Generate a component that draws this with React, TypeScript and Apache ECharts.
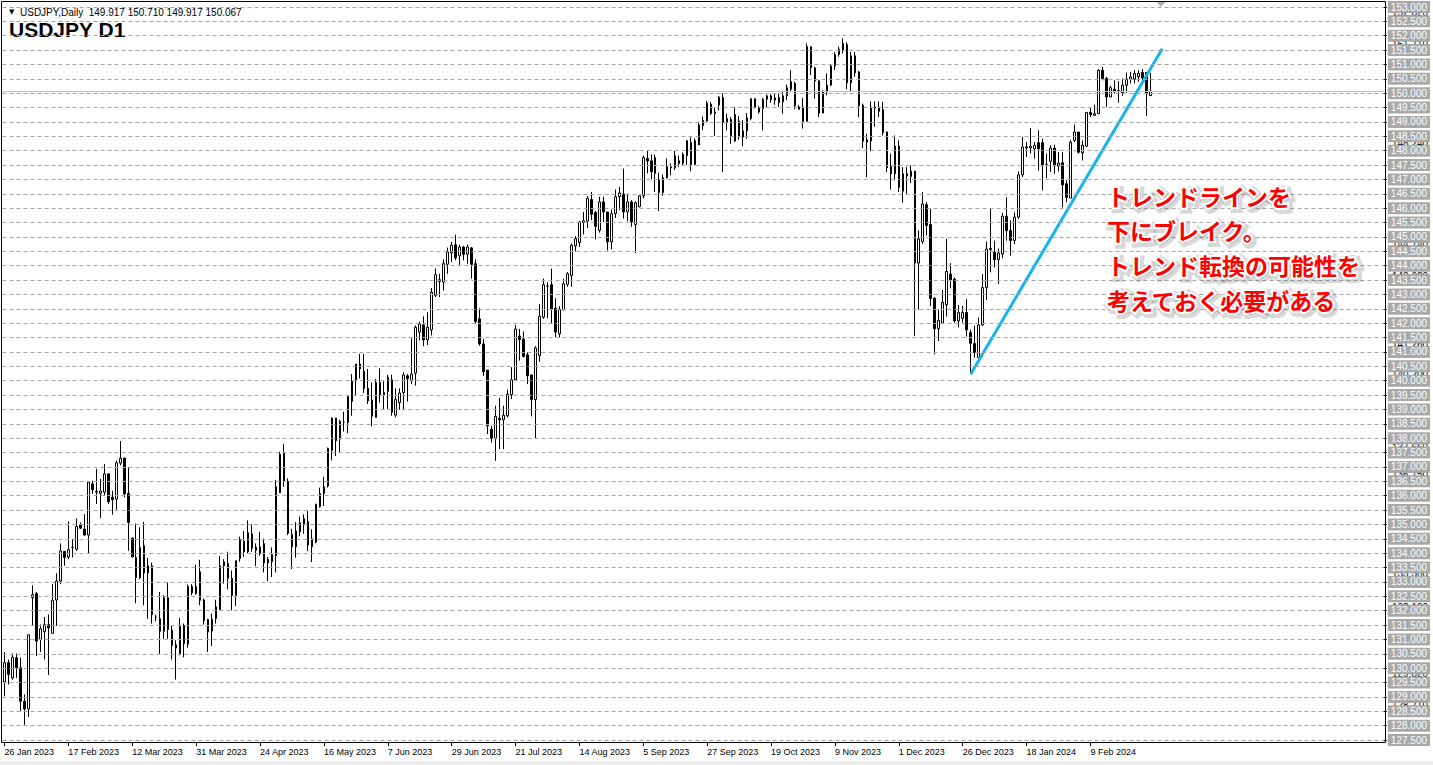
import React, { useEffect, useRef } from "react";
import * as echarts from "echarts";

// ---------- data ----------
const dateLabels = [
  "26 Jan 2023", "17 Feb 2023", "12 Mar 2023", "31 Mar 2023", "24 Apr 2023", "16 May 2023",
  "7 Jun 2023", "29 Jun 2023", "21 Jul 2023", "14 Aug 2023", "5 Sep 2023", "27 Sep 2023",
  "19 Oct 2023", "9 Nov 2023", "1 Dec 2023", "26 Dec 2023", "18 Jan 2024", "9 Feb 2024",
];
const LABEL_STEP = 16;
const TOTAL_SLOTS = 346;

const open = [
  129.52,130.19,129.66,130.36,130.01,128.85,128.58,132.45,132.59,131.00,
  131.27,131.51,131.21,132.37,133.03,134.06,133.87,134.20,134.14,134.98,
  134.84,134.63,136.41,136.12,136.08,136.12,136.76,135.95,135.88,137.13,
  137.31,136.08,134.52,133.85,133.15,134.26,133.31,133.56,131.77,131.72,
  131.28,132.45,131.33,130.81,130.50,131.49,130.83,132.84,132.59,133.35,
  132.37,131.69,131.29,131.72,132.03,133.56,133.64,133.12,132.53,133.81,
  134.41,134.05,134.67,134.21,133.99,134.33,133.78,133.70,133.91,136.10,
  137.48,136.49,134.65,134.22,134.74,134.98,135.09,134.22,134.38,135.62,
  136.07,136.34,137.58,138.70,137.97,138.55,138.55,139.28,140.00,140.58,
  140.33,139.73,139.33,138.72,139.94,139.51,139.63,140.03,138.80,139.24,
  139.59,140.17,140.00,140.26,141.69,141.94,141.42,141.77,142.97,143.51,
  143.43,144.05,144.45,144.73,144.34,144.65,144.40,144.62,144.07,142.15,
  141.28,140.37,138.31,138.00,138.69,138.64,138.78,139.51,140.03,141.55,
  141.45,140.90,140.20,139.34,140.87,142.21,143.29,143.34,142.52,141.63,
  142.47,143.35,143.66,144.69,144.80,145.50,145.55,146.30,145.85,145.23,
  146.22,145.87,144.83,145.81,146.40,146.49,145.87,146.22,145.43,146.05,
  146.43,147.73,147.65,147.21,146.98,146.55,147.06,147.41,147.41,147.65,
  147.56,147.83,148.28,147.52,148.20,148.87,149.03,149.62,149.34,149.59,
  149.84,148.98,149.09,148.34,149.03,148.48,148.69,149.12,149.81,149.35,
  149.47,149.79,149.91,149.76,149.85,149.70,149.91,150.14,150.34,149.44,
  149.52,149.02,151.62,150.88,150.43,149.31,150.05,150.28,150.95,151.35,
  151.50,151.70,150.36,151.30,150.74,149.58,148.30,148.34,149.52,149.52,
  149.43,148.65,147.45,147.20,148.16,146.59,147.20,147.10,147.29,144.09,
  144.84,146.12,145.43,142.87,141.81,142.00,142.64,143.71,143.53,142.08,
  142.17,142.37,141.67,141.30,140.80,141.94,143.24,144.60,144.47,144.21,
  144.41,145.72,145.22,144.88,145.69,147.16,148.13,148.10,148.07,148.28,
  148.28,147.51,147.63,148.09,147.47,147.58,146.85,146.35,148.36,148.65,
  147.93,148.16,149.33,149.23,149.29,150.80,150.51,149.87,150.14,150.07,
  150.02,150.28,150.49,150.49,150.57,150.72,150.72,149.917,
];
const high = [
  130.56,130.30,130.51,130.51,130.36,129.08,131.16,132.88,132.65,131.52,
  131.78,131.87,132.92,133.30,134.34,134.08,135.10,134.49,135.21,135.07,
  135.36,136.47,136.52,136.93,136.58,137.10,136.76,136.17,137.22,137.90,
  137.31,136.99,134.55,135.03,134.90,135.09,133.84,133.67,131.86,132.65,
  132.53,132.98,131.49,130.97,131.74,131.55,132.91,132.92,133.60,133.77,
  132.42,131.72,131.90,132.38,133.90,133.79,134.05,133.40,133.74,134.57,
  134.77,135.14,135.00,134.34,134.74,134.51,133.87,134.20,136.55,137.53,
  137.79,136.60,134.85,135.08,135.27,135.35,135.47,134.83,135.72,136.28,
  136.66,137.67,138.72,138.70,138.64,138.92,139.45,140.23,140.58,140.93,
  140.93,140.41,139.94,140.06,140.43,139.98,140.21,140.21,139.73,139.73,
  140.29,140.23,141.48,141.92,142.05,142.24,142.38,143.22,143.90,143.72,
  144.22,144.63,144.83,145.08,144.73,144.69,144.74,144.65,144.22,142.52,
  141.45,140.37,138.43,139.13,139.40,139.13,139.69,140.47,141.94,141.80,
  141.71,140.99,140.20,141.20,142.67,143.55,143.43,143.90,142.87,142.59,
  143.55,143.78,144.77,145.03,145.55,145.87,146.42,146.57,145.90,146.40,
  146.40,145.87,145.95,146.65,146.74,147.38,146.51,146.28,146.24,146.45,
  147.83,148.02,147.87,147.87,147.24,147.17,147.73,147.56,147.99,147.83,
  147.94,148.37,148.47,148.43,149.01,149.19,149.73,149.69,149.50,149.91,
  150.00,149.29,149.17,149.52,149.21,149.06,149.31,149.81,149.81,149.56,
  149.84,149.95,149.97,149.99,149.99,150.05,150.30,150.80,150.40,149.58,
  149.84,151.73,151.62,150.92,150.45,150.10,150.69,150.98,151.44,151.62,
  151.91,151.77,151.44,151.44,150.77,149.64,148.59,149.72,149.72,149.72,
  149.70,148.67,147.90,148.53,148.36,147.43,147.43,147.49,147.29,145.22,
  146.56,146.21,145.98,142.90,142.47,143.16,144.93,144.09,143.59,142.63,
  142.60,142.84,141.77,141.91,142.20,143.71,144.84,145.98,144.87,144.60,
  145.84,146.38,145.58,145.85,147.28,148.48,148.30,148.79,148.30,148.71,
  148.42,147.90,148.19,148.21,147.95,147.95,146.97,148.36,148.91,148.65,
  148.36,149.35,149.52,149.60,150.84,150.92,150.57,150.26,150.45,150.42,
  150.51,150.72,150.74,150.80,150.80,150.84,150.74,150.710,
];
const low = [
  129.02,129.43,129.60,129.66,128.50,128.03,128.30,131.47,130.42,130.56,
  130.30,129.76,131.21,131.47,132.92,133.56,133.79,133.85,134.08,134.84,
  134.60,134.00,136.06,135.71,135.22,136.00,135.71,135.34,135.51,137.05,
  135.94,134.08,133.85,132.26,133.09,132.19,131.72,131.55,131.63,130.50,
  131.02,131.02,130.30,129.60,130.44,130.38,130.71,132.53,132.56,132.19,
  131.52,130.56,130.77,131.55,132.03,132.94,132.74,132.01,132.16,133.70,
  133.87,133.99,134.05,133.55,133.91,133.33,133.02,133.17,133.33,136.10,
  136.31,134.63,133.45,133.84,134.59,134.67,134.07,133.69,134.34,135.58,
  135.64,136.28,137.23,137.38,137.50,138.23,138.17,138.78,139.48,140.08,
  139.57,139.19,138.41,138.72,139.24,139.01,139.01,138.78,138.72,138.99,
  138.99,139.27,139.88,139.83,141.40,141.20,141.24,141.57,142.91,142.91,
  143.14,143.72,144.13,144.19,144.03,144.19,144.07,143.55,141.98,141.22,
  140.17,138.14,137.85,137.21,137.62,137.62,138.72,139.36,140.00,140.70,
  140.81,139.88,138.76,138.00,140.66,142.15,142.17,142.01,141.51,141.51,
  142.44,143.26,143.26,144.50,144.65,145.09,145.31,145.58,144.92,145.15,
  145.52,144.53,144.57,145.66,145.93,145.64,145.55,145.35,144.44,146.03,
  146.34,147.21,147.01,146.57,145.90,146.43,147.03,147.15,147.33,147.44,
  147.50,147.50,147.29,147.50,148.20,148.72,149.01,149.24,148.52,149.40,
  147.26,148.71,148.24,148.30,148.38,148.16,148.42,149.06,149.47,149.29,
  148.71,149.52,149.67,149.60,149.52,149.29,149.76,150.05,149.44,149.43,
  148.77,149.02,150.63,149.81,149.17,149.31,149.93,150.26,150.80,151.27,
  151.38,150.14,150.05,150.57,149.17,148.09,147.08,147.98,148.83,149.17,
  148.53,147.26,146.65,146.97,146.56,146.19,146.50,146.88,141.56,142.47,
  144.76,145.05,142.60,140.92,141.38,141.97,142.23,143.21,142.02,141.85,
  142.02,141.53,140.25,140.80,140.80,141.91,142.81,143.77,143.94,143.36,
  144.26,144.87,144.35,144.75,145.63,147.08,147.78,147.90,147.72,147.31,
  146.62,147.05,147.26,147.20,147.28,146.03,146.21,146.35,148.30,147.90,
  147.66,148.13,149.17,149.21,149.29,150.45,149.52,149.87,149.99,149.67,
  149.91,150.02,150.34,150.34,150.40,150.34,149.21,149.917,
];
const close = [
  130.19,129.78,130.38,130.01,128.85,128.58,131.16,132.55,130.94,131.37,
  131.51,131.40,132.35,133.03,134.08,133.85,134.12,134.20,134.93,134.87,
  134.63,136.47,136.20,136.15,136.16,136.76,135.79,135.86,137.14,137.30,
  136.06,135.07,133.87,133.15,134.20,133.31,133.56,131.86,131.77,131.28,
  132.44,131.35,130.79,130.70,131.49,130.85,132.84,132.62,132.84,132.36,
  131.65,131.26,131.70,132.13,133.56,133.70,133.13,132.53,133.74,134.48,
  134.05,134.71,134.17,134.10,134.22,133.66,133.66,133.95,136.31,137.44,
  136.51,134.69,134.22,134.77,135.06,135.20,134.28,134.50,135.70,136.07,
  136.31,137.65,138.70,137.91,138.59,138.55,139.45,139.98,140.58,140.41,
  139.73,139.30,138.76,139.94,139.51,139.59,140.12,138.90,139.34,139.57,
  140.20,140.08,140.23,141.86,141.98,141.42,141.86,143.08,143.69,143.45,
  144.07,144.48,144.71,144.27,144.65,144.40,144.65,144.05,142.06,141.28,
  140.31,138.43,138.00,138.76,138.64,138.80,139.53,140.03,141.80,141.43,
  140.84,140.17,139.34,141.14,142.24,143.34,143.29,142.50,141.69,142.48,
  143.37,143.72,144.71,144.94,145.52,145.56,146.34,145.79,145.37,146.22,
  145.87,144.83,145.81,146.40,146.53,145.87,146.22,145.52,146.19,146.43,
  147.76,147.64,147.27,147.76,146.55,147.06,147.44,147.44,147.83,147.56,
  147.87,148.35,147.52,148.35,148.90,149.05,149.65,149.30,149.30,149.86,
  148.98,149.12,148.53,149.26,148.48,148.69,149.14,149.81,149.50,149.50,
  149.78,149.91,149.78,149.84,149.67,149.91,150.19,150.40,149.56,149.52,
  149.02,151.62,150.88,150.43,149.31,150.07,150.28,150.95,151.35,151.53,
  151.73,150.36,151.30,150.71,149.58,148.33,148.38,149.52,149.49,149.37,
  148.63,147.41,147.20,148.16,146.73,147.20,147.12,147.29,144.09,144.93,
  146.15,145.40,142.86,141.81,142.10,142.72,143.80,143.51,142.08,142.37,
  142.37,141.77,141.30,140.98,141.94,143.24,144.58,144.56,144.21,144.44,
  145.72,145.22,144.88,145.69,147.16,148.13,148.10,148.16,148.19,148.07,
  147.51,147.51,148.09,147.47,147.57,146.81,146.38,148.30,148.65,147.95,
  148.19,149.33,149.26,149.29,150.80,150.51,149.87,150.19,150.07,150.09,
  150.28,150.49,150.57,150.69,150.69,150.53,149.99,150.067,
];

const PRICE_MIN = 127.5;
const PRICE_MAX = 153;
const PRICE_STEP = 0.5;
const LAST_PRICE = 150.067;
// price levels whose black labels sit behind the grey axis boxes
const axisMarkers = [152.82, 151.71, 148.24, 145.96, 144.74, 143.62, 141.26, 140.2, 137.66, 136.75, 133.3, 132.1, 129.82, 128.71];
// trend line: [bar index, price]
const trendStart = [242, 140.22];
const trendEnd = [290, 151.55];

const headerText = "USDJPY,Daily  149.917 150.710 149.917 150.067";
const titleText = "USDJPY D1";
const noteLines = [
  "トレンドラインを",
  "下にブレイク。",
  "トレンド転換の可能性を",
  "考えておく必要がある",
];

export default function App() {
  const ref = useRef<HTMLDivElement>(null);
  useEffect(() => {
    if (!ref.current) return;
    const chart = echarts.init(ref.current, undefined, { renderer: "svg" });
    const categories = Array.from({ length: TOTAL_SLOTS }, (_, i) => String(i));
    const candles = open.map((o, i) => [o, close[i], low[i], high[i]]);
    const showTick = (i: number) => i % LABEL_STEP === 0 && i / LABEL_STEP < dateLabels.length;

    const noteFont = 'bold 23px "Noto Sans CJK JP"';
    const noteX = 1107;
    const noteY = (k: number) => 195.5 + 34.8 * k;
    const noteShadow = noteLines.map((t, k) => ({
      type: "text",
      x: noteX + 2,
      y: noteY(k) + 2,
      z: 58,
      silent: true,
      style: {
        text: t,
        fill: "rgba(80,80,80,0.35)",
        stroke: "rgba(80,80,80,0.22)",
        lineWidth: 8,
        font: noteFont,
        verticalAlign: "middle",
      },
    }));
    const noteOutline = noteLines.map((t, k) => ({
      type: "text",
      x: noteX,
      y: noteY(k),
      z: 59,
      silent: true,
      style: {
        text: t,
        fill: "#ffffff",
        stroke: "#ffffff",
        lineWidth: 4,
        font: noteFont,
        verticalAlign: "middle",
      },
    }));
    const noteFill = noteLines.map((t, k) => ({
      type: "text",
      x: noteX,
      y: noteY(k),
      z: 60,
      silent: true,
      style: {
        text: t,
        fill: "#ff0000",
        font: noteFont,
        verticalAlign: "middle",
      },
    }));

    const baseGraphic: any[] = [
      {
        type: "rect",
        shape: { x: 1.5, y: 1.5, width: 1384, height: 741 },
        style: { fill: "none", stroke: "#000", lineWidth: 1 },
        silent: true,
        z: 50,
      },
      {
        type: "rect",
        shape: { x: 0, y: 761, width: 1433, height: 4 },
        style: { fill: "#ececec" },
        silent: true,
      },
      {
        type: "polygon",
        shape: { points: [[1156, 1], [1166, 1], [1161, 7]] },
        style: { fill: "#b0b0b0" },
        silent: true,
      },
      {
        type: "text",
        x: 9,
        y: 12,
        style: { text: "▼", fill: "#000", font: '7px "DejaVu Sans"', verticalAlign: "middle" },
      },
      {
        type: "text",
        x: 20,
        y: 12,
        style: { text: headerText, fill: "#000", font: '10px "Liberation Sans"', verticalAlign: "middle" },
      },
      {
        type: "text",
        x: 9,
        y: 29,
        style: { text: titleText, fill: "#000", font: 'bold 21px "Liberation Sans"', verticalAlign: "middle" },
      },
      ...noteShadow,
      ...noteOutline,
      ...noteFill,
    ];

    chart.setOption({
      animation: false,
      backgroundColor: "#ffffff",
      grid: { left: 2.5, right: 46.5, top: 7, bottom: 25, containLabel: false },
      xAxis: {
        type: "category",
        data: categories,
        boundaryGap: true,
        offset: 2,
        axisLine: { show: false },
        axisTick: {
          show: true,
          alignWithLabel: true,
          interval: (i: number) => showTick(i),
          length: 4,
          lineStyle: { color: "#000" },
        },
        axisLabel: {
          interval: (i: number) => showTick(i),
          formatter: (_v: string, i: number) => dateLabels[Math.round(i / LABEL_STEP)] ?? "",
          align: "left",
          color: "#000",
          fontSize: 9,
          fontFamily: "Liberation Sans",
          margin: 5,
        },
        splitLine: { show: false },
      },
      yAxis: {
        type: "value",
        position: "right",
        min: PRICE_MIN,
        max: PRICE_MAX,
        interval: PRICE_STEP,
        z: 10,
        axisLine: { show: false },
        axisTick: { show: true, length: 3, lineStyle: { color: "#000" } },
        axisLabel: {
          formatter: (v: number) => v.toFixed(3),
          color: "#ffffff",
          backgroundColor: "#a9a9a9",
          padding: [1, 3, 1, 3],
          fontSize: 10,
          fontFamily: "Liberation Sans",
          margin: 4,
          showMinLabel: true,
          showMaxLabel: true,
        },
        splitLine: { show: true, lineStyle: { color: "#a6a6a6", type: [4, 3], width: 1 } },
      },
      series: [
        {
          type: "candlestick",
          data: candles,
          barWidth: 2,
          itemStyle: {
            color: "#ffffff",
            color0: "#000000",
            borderColor: "#000000",
            borderColor0: "#000000",
            borderWidth: 1,
          },
          markLine: {
            silent: true,
            symbol: ["none", "none"],
            label: { show: false },
            data: [
              { yAxis: LAST_PRICE, lineStyle: { color: "#c0c0c0", width: 1, type: "solid" } },
              [
                {
                  coord: [String(trendStart[0]), trendStart[1]],
                  lineStyle: { color: "#14b4ec", width: 3, type: "solid" },
                },
                { coord: [String(trendEnd[0]), trendEnd[1]] },
              ],
            ],
          },
        },
      ],
      graphic: baseGraphic,
    });

    // black level labels on the price scale, placed through the axis scale
    const markerGraphic = axisMarkers.map((v) => {
      const py = chart.convertToPixel({ yAxisIndex: 0 }, v) as number;
      return {
        type: "text",
        x: 1392,
        y: py,
        z: 1,
        silent: true,
        style: { text: v.toFixed(3), fill: "#000", font: '10px "Liberation Sans"', verticalAlign: "middle" },
      };
    });
    chart.setOption({ graphic: [...baseGraphic, ...markerGraphic] });

    return () => chart.dispose();
  }, []);
  return (
    <div
      ref={ref}
      style={{ position: "absolute", left: 0, top: 0, width: 1433, height: 765 }}
    />
  );
}
